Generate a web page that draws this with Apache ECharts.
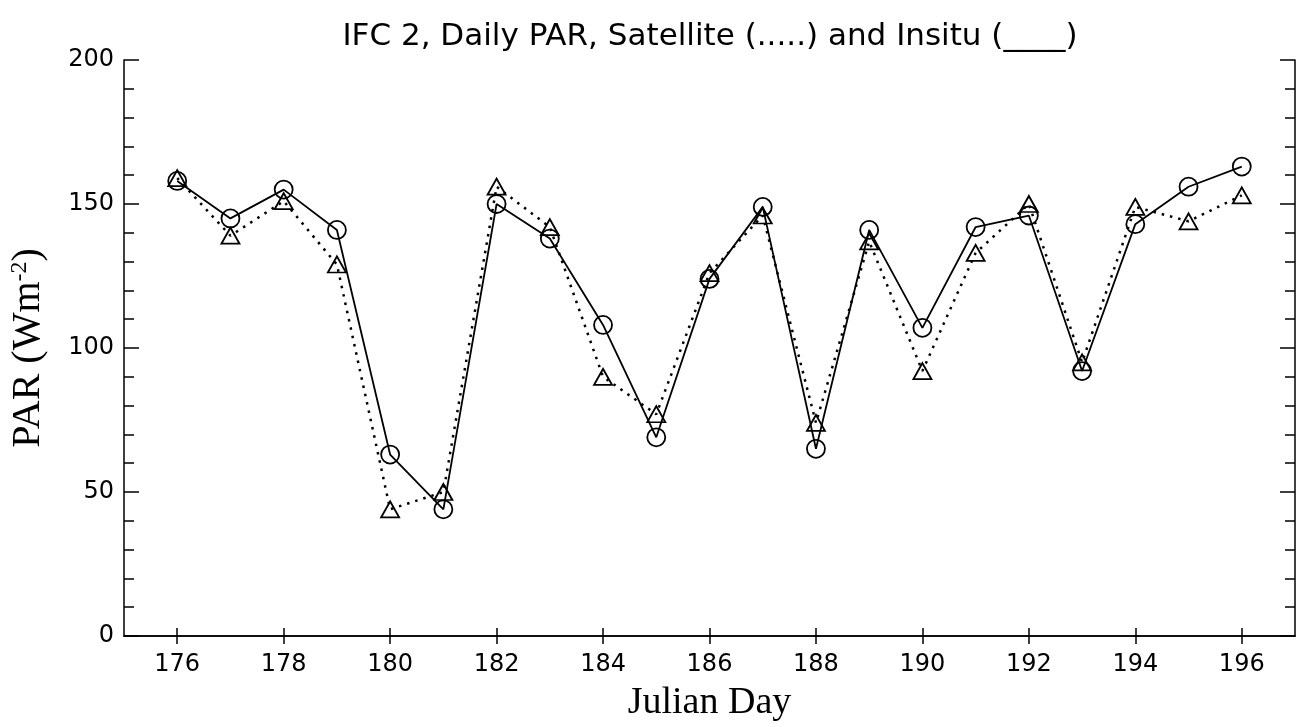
<!DOCTYPE html>
<html>
<head>
<meta charset="utf-8">
<script src="https://cdn.jsdelivr.net/npm/echarts@6/dist/echarts.min.js"></script>
<style>
  html, body { margin: 0; padding: 0; background: #fff; }
  #parChart { width: 1305px; height: 727px; }
</style>
</head>
<body>
<div id="parChart"></div>
<script>
// Julian days
var days = [176, 177, 178, 179, 180, 181, 182, 183, 184, 185, 186, 187, 188, 189, 190, 191, 192, 193, 194, 195, 196];
// insitu (solid, circles)
var insitu = [158, 145, 155, 141, 63, 44, 150, 138, 108, 69, 124, 149, 65, 141, 107, 142, 146, 92, 143, 156, 163];
// satellite (dotted, triangles)
var satellite = [159, 139, 151, 129, 44, 50, 156, 142, 90, 77, 126, 146, 74, 137, 92, 133, 150, 95, 149, 144, 153];
var dayTicks = [176, 178, 180, 182, 184, 186, 188, 190, 192, 194, 196];

function pairs(ys) {
  var out = [];
  for (var i = 0; i < days.length; i++) {
    out.push([days[i], ys[i]]);
  }
  return out;
}

var chart = echarts.init(document.getElementById("parChart"));
var tickFont = { color: "#000", fontFamily: "DejaVu Sans", fontSize: 24 };

var option = {
  backgroundColor: "#fff",
  animation: false,
  title: {
    text: "IFC 2, Daily PAR, Satellite (.....) and Insitu (____)",
    left: 705,
    textAlign: "center",
    top: 16,
    textStyle: { color: "#000", fontFamily: "DejaVu Sans", fontSize: 31, fontWeight: "normal" }
  },
  grid: { left: 124, right: 10, top: 60, bottom: 91, outerBoundsMode: "none" },
  xAxis: [
    {
      type: "value",
      min: 175,
      max: 197,
      name: "Julian Day",
      nameLocation: "middle",
      nameGap: 48,
      nameTextStyle: { color: "#000", fontFamily: "Liberation Serif", fontSize: 38 },
      axisLine: { lineStyle: { color: "#000", width: 1.5 } },
      axisTick: { inside: true, length: 8, customValues: dayTicks, lineStyle: { color: "#000", width: 1.5 } },
      axisLabel: Object.assign({ margin: 17, customValues: dayTicks }, tickFont),
      splitLine: { show: false }
    },
    {
      type: "value",
      position: "top",
      min: 175,
      max: 197,
      axisLine: { lineStyle: { color: "#000", width: 1.5 } },
      axisTick: { inside: true, length: 8, customValues: dayTicks, lineStyle: { color: "#000", width: 1.5 } },
      axisLabel: { show: false },
      splitLine: { show: false }
    }
  ],
  yAxis: [
    {
      type: "value",
      min: 0,
      max: 200,
      interval: 50,
      name: "PAR (Wm{sup|-2})",
      nameLocation: "middle",
      nameGap: 76,
      nameRotate: 90,
      nameTextStyle: {
        color: "#000", fontFamily: "Liberation Serif", fontSize: 40,
        rich: { sup: { fontFamily: "Liberation Serif", fontSize: 24, verticalAlign: "top", padding: [0, 0, 16, 0] } }
      },
      axisLine: { show: true, lineStyle: { color: "#000", width: 1.5 } },
      axisTick: { inside: true, length: 15, lineStyle: { color: "#000", width: 1.5 } },
      minorTick: { show: true, splitNumber: 5, length: 10, lineStyle: { color: "#000", width: 1.5 } },
      axisLabel: Object.assign({ margin: 10 }, tickFont),
      splitLine: { show: false }
    },
    {
      type: "value",
      position: "right",
      min: 0,
      max: 200,
      interval: 50,
      axisLine: { show: true, lineStyle: { color: "#000", width: 1.5 } },
      axisTick: { inside: true, length: 15, lineStyle: { color: "#000", width: 1.5 } },
      minorTick: { show: true, splitNumber: 5, length: 10, lineStyle: { color: "#000", width: 1.5 } },
      axisLabel: { show: false },
      splitLine: { show: false }
    }
  ],
  series: [
    {
      name: "Satellite",
      type: "line",
      data: pairs(satellite),
      symbol: "triangle",
      symbolSize: [18, 16],
      lineStyle: { color: "#000", width: 2.5, type: [2.5, 6] },
      itemStyle: { color: "rgba(0,0,0,0)", borderColor: "#000", borderWidth: 1.8 }
    },
    {
      name: "Insitu",
      type: "line",
      data: pairs(insitu),
      symbol: "circle",
      symbolSize: 18,
      lineStyle: { color: "#000", width: 1.8 },
      itemStyle: { color: "rgba(0,0,0,0)", borderColor: "#000", borderWidth: 1.8 }
    }
  ]
};

chart.setOption(option);
</script>
</body>
</html>
